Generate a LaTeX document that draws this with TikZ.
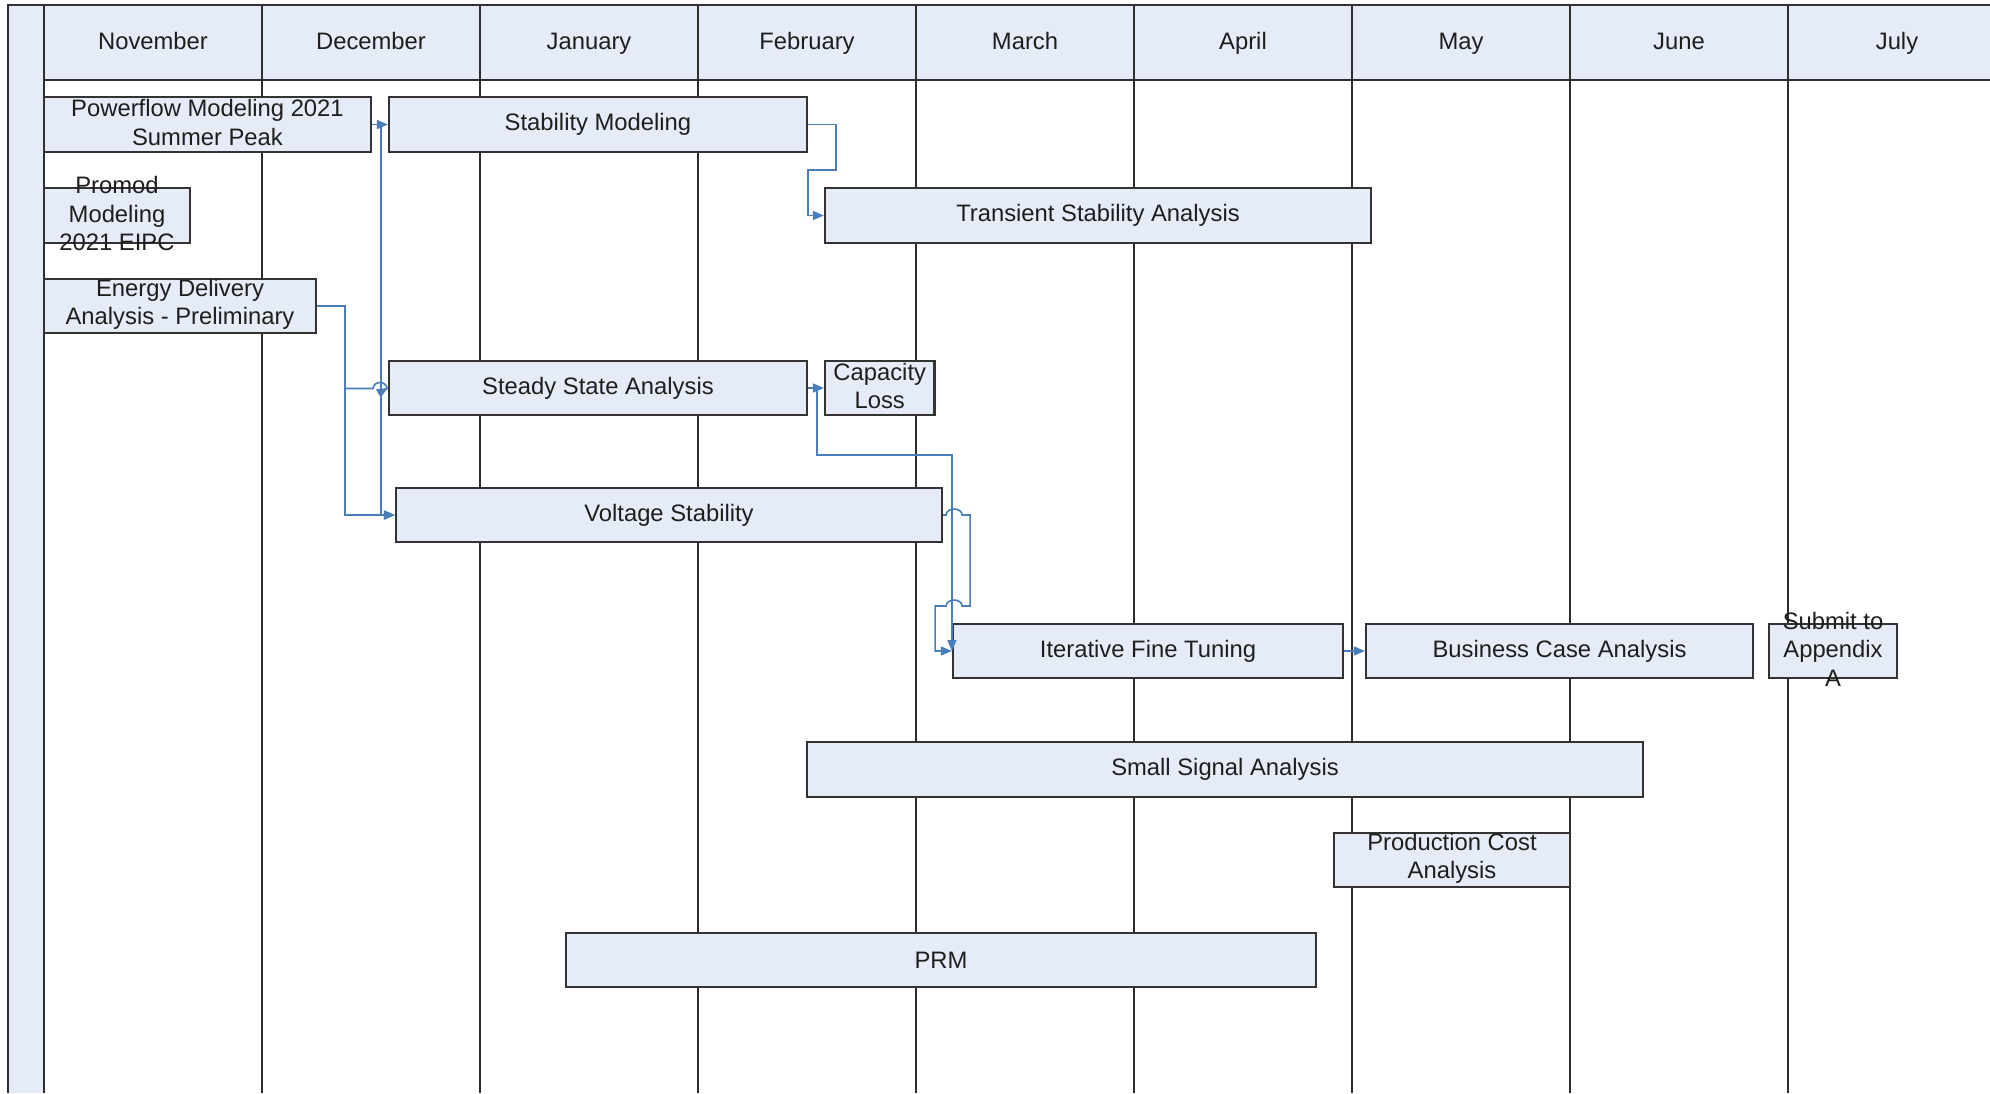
\documentclass[tikz,border=0pt]{standalone}
\usepackage{fontspec}
\setmainfont{Liberation Sans}
\usetikzlibrary{arrows.meta,fit,calc}
\definecolor{boxfill}{HTML}{E6ECF7}
\definecolor{boxline}{HTML}{333333}
\definecolor{gridline}{HTML}{2E2E2E}
\definecolor{conn}{HTML}{4A7EBB}
\definecolor{txt}{HTML}{1E1E1E}
\begin{document}
\begin{tikzpicture}[x=1pt,y=1pt,
  taskbox/.style={draw=boxline, fill=boxfill, line width=2.2pt, inner sep=0pt, rectangle},
  tasktext/.style={text=txt, align=center, font=\fontsize{23.8}{28.5}\selectfont, inner sep=0pt},
  multitext/.style={tasktext, yshift=1.8pt},
  monthtext/.style={text=txt, font=\fontsize{23.8}{28.5}\selectfont, anchor=base, inner sep=0pt},
  flow/.style={draw=conn, line width=1.6pt, -{Triangle[length=11pt,width=9pt]}},
  rule/.style={draw=gridline, line width=2pt}]
\useasboundingbox (0,0) rectangle (1990,-1093);
% backgrounds
\fill[boxfill] (7,-6) rectangle (44,-1093);
\fill[boxfill] (44,-6) rectangle (1990,-80);
% grid
\draw[draw=boxline, line width=2.6pt] (6.5,-5) -- (1990,-5);
\draw[rule] (7.5,-5) -- (7.5,-1093);
\draw[rule] (44,-80) -- (1990,-80);
\foreach \i in {0,...,8} { \draw[rule] (44+218*\i,-6) -- (44+218*\i,-1093); }
% month labels
\foreach \m [count=\i from 0] in {November,December,January,February,March,April,May,June,July}
  { \node[monthtext] (m\i) at (153+218*\i,-49.5) {\m}; }
% task boxes
\node[taskbox, fit={(44,-97) (371,-152)}] (pf) {};
\node[taskbox, fit={(389,-97) (807,-152)}] (sm) {};
\node[taskbox, fit={(44,-188) (190,-243)}] (pm) {};
\node[taskbox, fit={(825,-188) (1371,-243)}] (tsa) {};
\node[taskbox, fit={(44,-279) (316,-333)}] (ed) {};
\node[taskbox, fit={(389,-361) (807,-415)}] (ssa) {};
\node[taskbox, fit={(825,-361) (934.5,-415)}] (cl) {};
\node[taskbox, fit={(396,-488) (942,-542)}] (vs) {};
\node[taskbox, fit={(953,-624) (1343,-678)}] (ift) {};
\node[taskbox, fit={(1366,-624) (1753,-678)}] (bca) {};
\node[taskbox, fit={(1769,-624) (1897,-678)}] (sub) {};
\node[taskbox, fit={(807,-742) (1643,-797)}] (ssig) {};
\node[taskbox, fit={(1334,-833) (1570,-887)}] (pca) {};
\node[taskbox, fit={(566,-933) (1316,-987)}] (prm) {};
% connectors
\coordinate (h0) at (0,-455);
\draw[flow] (pf.east) -- (sm.west);
\draw[flow] (pf.east) -- ++(9,0) |- (vs.west);
\draw[flow] (ed.east) -- ++(28,0) |- (373,-388.5) arc[start angle=180, end angle=0, x radius=7pt, y radius=6pt] -- (ssa.west);
\draw[flow] (ed.east) -- ++(28,0) |- (vs.west);
\draw[flow] (sm.east) -- ++(28,0) -- ++(0,-45.5) -- ++(-28,0) |- (tsa.west);
\draw[flow] (ssa.east) -- (cl.west);
\draw[flow] (ssa.east) -- ++(9,0) |- (ift.west |- h0) -- (ift.west);
\draw[flow] (vs.east) -- ++(3,0) arc[start angle=180, end angle=0, x radius=8pt, y radius=6pt] -- ++(8,0) -- ++(0,-91) -- ++(-8,0) arc[start angle=0, end angle=180, x radius=8pt, y radius=6pt] -- ++(-11,0) |- (ift.west);
\draw[flow] (ift.east) -- (bca.west);
% task texts
\node[multitext] (pf-t) at (pf) {Powerflow Modeling 2021\\Summer Peak};
\node[tasktext] (sm-t) at (sm) {Stability Modeling};
\node[multitext] (pm-t) at (pm) {Promod\\Modeling\\2021 EIPC};
\node[tasktext] (tsa-t) at (tsa) {Transient Stability Analysis};
\node[multitext] (ed-t) at (ed) {Energy Delivery\\Analysis - Preliminary};
\node[tasktext] (ssa-t) at (ssa) {Steady State Analysis};
\node[multitext] (cl-t) at (cl) {Capacity\\Loss};
\node[tasktext] (vs-t) at (vs) {Voltage Stability};
\node[tasktext] (ift-t) at (ift) {Iterative Fine Tuning};
\node[tasktext] (bca-t) at (bca) {Business Case Analysis};
\node[multitext] (sub-t) at (sub) {Submit to\\Appendix\\A};
\node[tasktext] (ssig-t) at (ssig) {Small Signal Analysis};
\node[multitext] (pca-t) at (pca) {Production Cost\\Analysis};
\node[tasktext] (prm-t) at (prm) {PRM};
\end{tikzpicture}
\end{document}
